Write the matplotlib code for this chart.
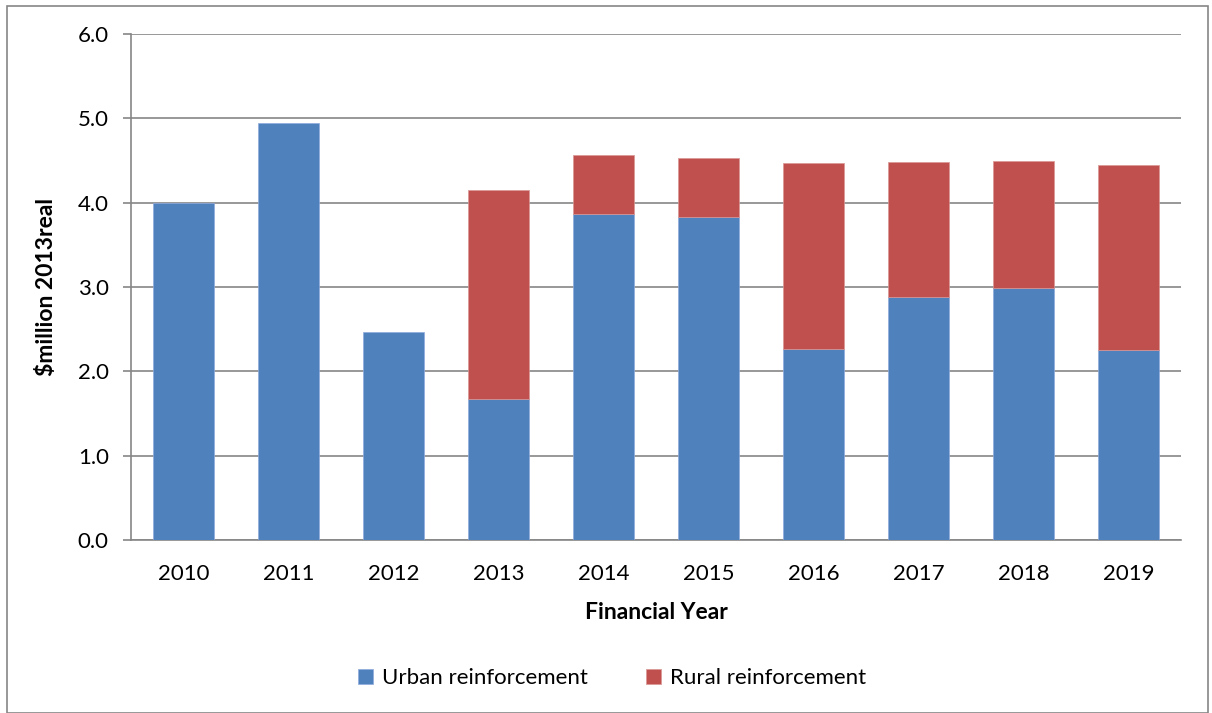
import numpy as np
import matplotlib.pyplot as plt
from matplotlib.patches import Rectangle

plt.rcParams['font.family'] = ['Lato', 'DejaVu Sans']

years = ['2010', '2011', '2012', '2013', '2014', '2015', '2016', '2017', '2018', '2019']
urban = [4.00, 4.95, 2.47, 1.67, 3.87, 3.83, 2.27, 2.88, 2.99, 2.25]
rural = [0.00, 0.00, 0.00, 2.48, 0.70, 0.70, 2.20, 1.60, 1.51, 2.20]

blue = '#4F81BD'
red = '#C0504D'

fig = plt.figure(figsize=(12.12, 7.13), dpi=100)
ax = fig.add_axes([0.1081, 0.2426, 0.8663, 0.7097])

x = np.arange(len(years))
ax.bar(x, urban, width=0.58, color=blue, edgecolor='#8FAADC', linewidth=0.5,
       label='Urban reinforcement', zorder=3)
# skip the empty rural segments so they leave no edge line
has_rural = np.array(rural) > 0
ax.bar(x[has_rural], np.array(rural)[has_rural], width=0.58,
       bottom=np.array(urban)[has_rural], color=red, edgecolor='#D99694',
       linewidth=0.5, label='Rural reinforcement', zorder=3)

ax.set_xlim(-0.5, len(years) - 0.5)
ax.set_ylim(0, 6)
ax.set_yticks(np.arange(0, 6.1, 1.0))
ax.set_yticklabels([f'{v:.1f}' for v in np.arange(0, 6.1, 1.0)])
ax.set_xticks(x)
ax.set_xticklabels(years)

ax.grid(axis='y', color='#868686', linewidth=1.2, zorder=0)
for side in ['top', 'right']:
    ax.spines[side].set_visible(False)
ax.spines['left'].set_color('#868686')
ax.spines['bottom'].set_color('#868686')
ax.spines['left'].set_linewidth(1.2)
ax.spines['bottom'].set_linewidth(1.2)
ax.tick_params(axis='y', length=6, width=1.2, color='#868686', labelsize=16, pad=10)
ax.tick_params(axis='x', length=0, labelsize=16, pad=17)

ax.set_ylabel('$million 2013real', fontsize=16.5, fontweight='bold', labelpad=15)
ax.set_xlabel('Financial Year', fontsize=16.5, fontweight='bold', labelpad=13)

fig.legend(loc='center', bbox_to_anchor=(0.505, 0.049), ncol=2, frameon=False,
           fontsize=16, handlelength=0.7, handleheight=0.7, handletextpad=0.4,
           columnspacing=2.6)

fig.patches.append(Rectangle((7 / 1212, 0.0), 1201 / 1212, 1 - 6 / 713,
                             transform=fig.transFigure, fill=False,
                             edgecolor='#868686', linewidth=1.2))

fig.savefig('out.png', dpi=100)
